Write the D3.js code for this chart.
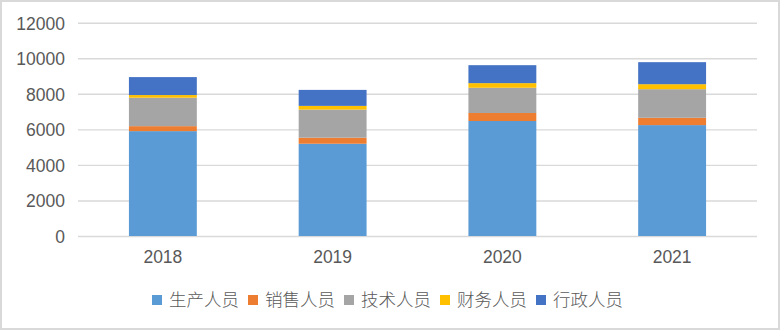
<!DOCTYPE html>
<html>
<head>
<meta charset="utf-8">
<script src="https://cdn.jsdelivr.net/npm/d3@7"></script>
<style>
  html, body { margin: 0; padding: 0; background: #fff; }
  svg { display: block; }
</style>
</head>
<body>
<svg id="chart" width="780" height="330"></svg>
<script>
const years = ["2018", "2019", "2020", "2021"];
const seriesNames = ["生产人员", "销售人员", "技术人员", "财务人员", "行政人员"];
const production = [5900, 5190, 6470, 6240];
const sales = [280, 340, 450, 410];
const technical = [1600, 1580, 1420, 1610];
const finance = [150, 210, 260, 280];
const admin = [1010, 900, 1010, 1240];
const yTicks = [0, 2000, 4000, 6000, 8000, 10000, 12000];
const colors = ["#5B9BD5", "#ED7D31", "#A5A5A5", "#FFC000", "#4472C4"];

const seriesValues = [production, sales, technical, finance, admin];
const table = years.map((yr, i) => {
  const row = { year: yr };
  seriesNames.forEach((s, k) => { row[s] = seriesValues[k][i]; });
  return row;
});

const svg = d3.select("#chart");
const W = 780, H = 330;
const plotLeft = 78, plotRight = 757, plotTop = 22.7, plotBottom = 236;

svg.append("rect").attr("x", 1).attr("y", 1).attr("width", W - 2).attr("height", H - 2)
  .attr("fill", "#fff").attr("stroke", "#d9d9d9").attr("stroke-width", 2);

const x = d3.scaleBand().domain(years).range([plotLeft, plotRight]).paddingInner(0.6).paddingOuter(0.3);
const y = d3.scaleLinear().domain([0, 12000]).range([plotBottom, plotTop]);

const textColor = "#595959";
const latin = "'Liberation Sans', Arial, Helvetica, sans-serif";
const cjk = "'Noto Sans CJK SC', 'Noto Sans', sans-serif";

// gridlines
const grid = svg.append("g")
  .attr("transform", `translate(${plotLeft},0)`)
  .call(d3.axisLeft(y).tickValues(yTicks).tickSize(-(plotRight - plotLeft)).tickFormat(""));
grid.select(".domain").remove();
grid.selectAll("line").attr("stroke", "#d9d9d9").attr("stroke-width", 1.4);

// y labels
const yAxis = svg.append("g")
  .attr("transform", `translate(${plotLeft - 13},0)`)
  .call(d3.axisLeft(y).tickValues(yTicks).tickSize(0).tickPadding(0).tickFormat(d3.format("d")));
yAxis.select(".domain").remove();
yAxis.selectAll("text").attr("fill", textColor).attr("font-family", latin)
  .attr("font-size", "17.5px").attr("dy", "0.36em");

// stacked bars
const stack = d3.stack().keys(seriesNames)(table);
svg.append("g").selectAll("g").data(stack).join("g")
  .attr("fill", (d, i) => colors[i])
  .selectAll("rect").data(d => d).join("rect")
  .attr("x", d => x(d.data.year))
  .attr("width", x.bandwidth())
  .attr("y", d => y(d[1]))
  .attr("height", d => y(d[0]) - y(d[1]));

// x labels
const xAxis = svg.append("g")
  .attr("transform", `translate(0,${plotBottom})`)
  .call(d3.axisBottom(x).tickSize(0).tickPadding(15));
xAxis.select(".domain").remove();
xAxis.selectAll("text").attr("fill", textColor).attr("font-family", latin)
  .attr("font-size", "17.5px");

// legend
const legend = svg.append("g").attr("transform", "translate(0,300)");
const items = legend.selectAll("g").data(seriesNames).join("g");
items.append("rect").attr("width", 10).attr("height", 10).attr("y", -5)
  .attr("fill", (d, i) => colors[i]);
items.append("text").attr("x", 17).attr("dy", "0.35em")
  .attr("fill", textColor).attr("font-family", cjk).attr("font-size", "17.5px")
  .attr("font-weight", 300)
  .text(d => d);
const widths = [];
items.each(function () { widths.push(17 + d3.select(this).select("text").node().getComputedTextLength()); });
const gap = 9;
const total = d3.sum(widths) + gap * (widths.length - 1);
let cx = 387.5 - total / 2;
items.each(function (d, i) {
  d3.select(this).attr("transform", `translate(${cx},0)`);
  cx += widths[i] + gap;
});
</script>
</body>
</html>
